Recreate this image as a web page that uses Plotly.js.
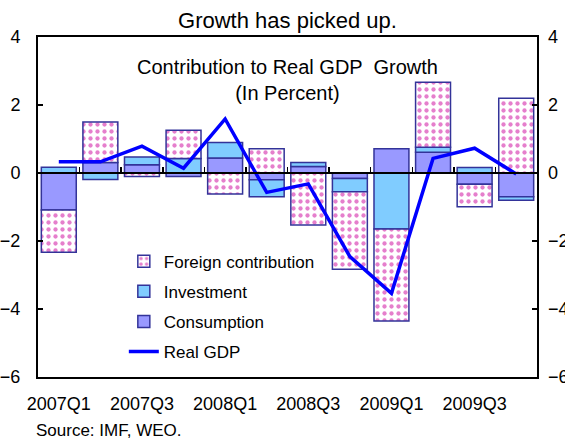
<!DOCTYPE html>
<html>
<head>
<meta charset="utf-8">
<script src="https://cdn.plot.ly/plotly-3.0.1.min.js"></script>
<style>html,body{margin:0;padding:0;background:#fff;}#chart{width:565px;height:444px;}</style>
</head>
<body>
<div id="chart"></div>
<script>
const categories = ['2007Q1','2007Q2','2007Q3','2007Q4','2008Q1','2008Q2','2008Q3','2008Q4','2009Q1','2009Q2','2009Q3','2009Q4'];
const tickLabels = ['2007Q1','2007Q3','2008Q1','2008Q3','2009Q1','2009Q3'];
const consumption = [-1.09, 0.31, 0.24, -0.10, 0.44, -0.20, 0.19, -0.16, 0.71, 0.61, -0.33, -0.70];
const investment  = [0.17, -0.19, 0.23, 0.43, 0.46, -0.50, 0.12, -0.39, -1.65, 0.15, 0.16, -0.10];
const foreign     = [-1.24, 1.19, -0.10, 0.83, -0.62, 0.71, -1.53, -2.28, -2.70, 1.91, -0.66, 2.20];
const realGDP     = [0.33, 0.33, 0.79, 0.14, 1.59, -0.57, -0.32, -2.46, -3.54, 0.43, 0.73, -0.03];

const FONT = 'Liberation Sans, Arial, sans-serif';
const outline = {color: '#333399', width: 1.5};

const traces = [
  {type: 'bar', name: 'Consumption', x: categories, y: consumption, legendrank: 3, legendgroup: 'c',
   marker: {color: '#9999FF', line: outline}},
  {type: 'bar', name: 'Investment', x: categories, y: investment, legendrank: 2, legendgroup: 'i',
   marker: {color: '#80CCFF', line: outline}},
  {type: 'bar', name: 'Foreign contribution', x: categories, y: foreign, legendrank: 1, legendgroup: 'f',
   marker: {color: '#FFFFFF', line: outline,
            pattern: {shape: '.', fgcolor: '#CC0099', bgcolor: '#FFFFFF', size: 7, solidity: 0.3, fillmode: 'overlay'}}},
  {type: 'scatter', mode: 'lines', name: 'Real GDP', x: categories, y: realGDP, legendrank: 4, legendgroup: 'g',
   xaxis: 'x2', yaxis: 'y2', line: {color: '#0000FF', width: 3.5}}
];

const layout = {
  width: 565, height: 444,
  margin: {l: 38, r: 28, t: 37, b: 67},
  paper_bgcolor: '#FFFFFF', plot_bgcolor: '#FFFFFF',
  font: {family: FONT, size: 17, color: '#000000'},
  barmode: 'relative', bargap: 0.16,
  title: {text: 'Growth has picked up.', x: 0.5, xref: 'paper', xanchor: 'center',
          y: 1 - 20/444, yref: 'container', yanchor: 'middle', font: {family: FONT, size: 22, color: '#000'}},
  xaxis: {type: 'category', range: [-0.5, 11.5], tickmode: 'array', tickvals: tickLabels, ticktext: tickLabels,
          ticks: '', showline: true, mirror: true, linecolor: '#000', linewidth: 2, showgrid: false,
          zeroline: false, ticklabelstandoff: 9, tickfont: {family: FONT, size: 18}},
  xaxis2: {type: 'category', overlaying: 'x', anchor: 'free', position: 0.6, range: [-0.5, 11.5],
           tickson: 'boundaries', ticks: 'inside', ticklen: 5, tickwidth: 1.5, tickcolor: '#000',
           dtick: 1, showticklabels: false, showline: true, linecolor: '#000', linewidth: 2, showgrid: false, zeroline: false},
  yaxis: {range: [-6, 4], dtick: 2, tick0: 0, ticks: 'inside', ticklen: 5, tickwidth: 1.5, tickcolor: '#000',
          showline: true, mirror: true, linecolor: '#000', linewidth: 2, showgrid: false, zeroline: false,
          ticklabelstandoff: 12, tickfont: {family: FONT, size: 18}},
  yaxis2: {range: [-6, 4], dtick: 2, tick0: 0, overlaying: 'y', side: 'right', anchor: 'x',
           ticks: 'inside', ticklen: 5, tickwidth: 1.5, tickcolor: '#000', showgrid: false, zeroline: false,
           showline: false, ticklabelstandoff: 10, tickfont: {family: FONT, size: 18}},
  showlegend: true,
  legend: {x: 0.172, xanchor: 'left', y: 0.392, yanchor: 'top', bgcolor: 'rgba(0,0,0,0)',
           font: {family: FONT, size: 17}, traceorder: 'grouped', tracegroupgap: 5, itemwidth: 30},
  annotations: [
    {text: 'Contribution to Real GDP  Growth<br>(In Percent)', xref: 'paper', yref: 'paper', x: 0.5, y: (377-80)/340,
     xanchor: 'center', yanchor: 'middle', showarrow: false, font: {family: FONT, size: 20, color: '#000'}},
    {text: 'Source: IMF, WEO.', xref: 'paper', yref: 'paper', x: -4/499, y: (377-431)/340,
     xanchor: 'left', yanchor: 'middle', showarrow: false, font: {family: FONT, size: 17, color: '#000'}}
  ]
};

Plotly.newPlot('chart', traces, layout, {displayModeBar: false, staticPlot: true});
</script>
</body>
</html>
